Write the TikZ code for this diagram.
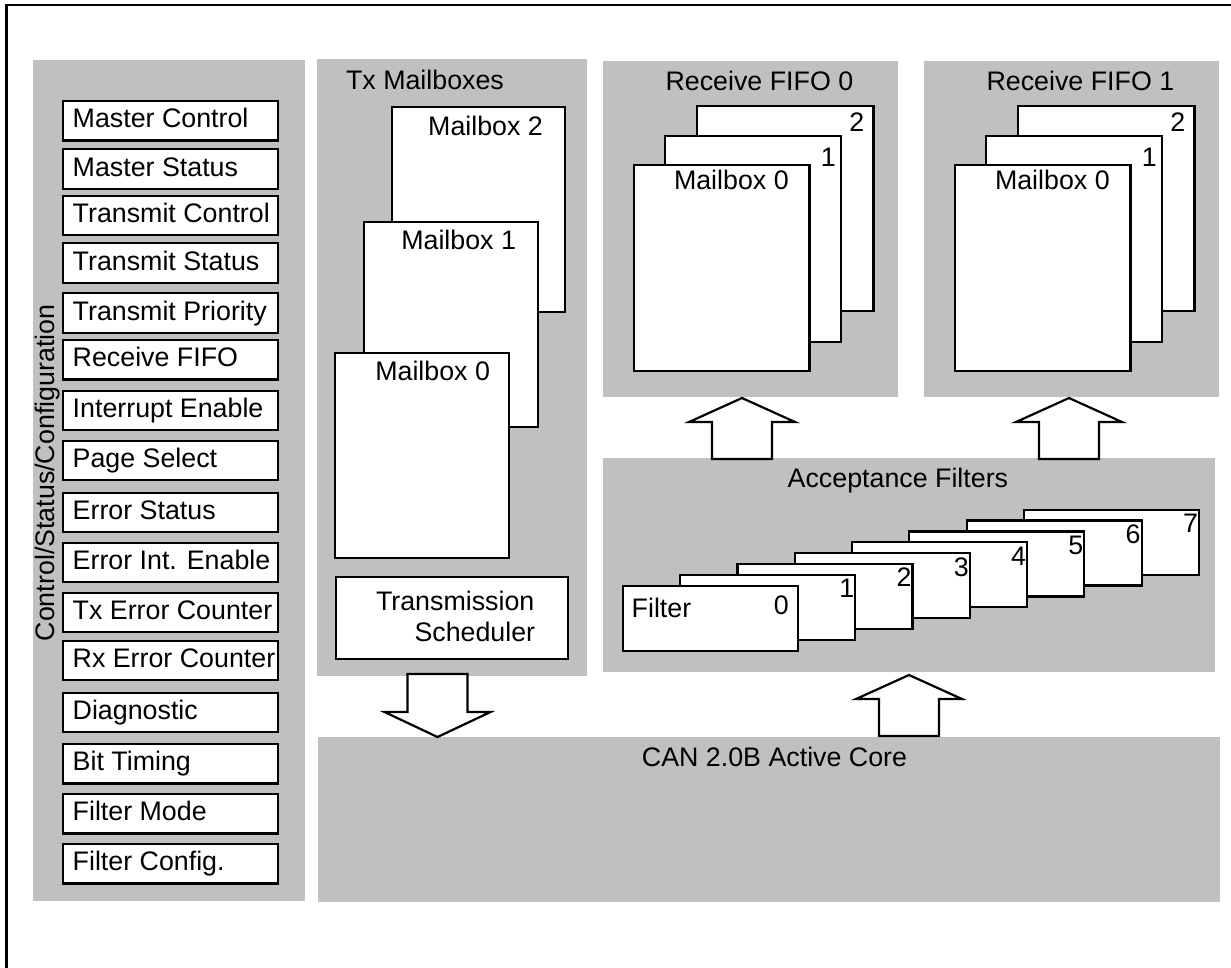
\documentclass[tikz,border=0pt]{standalone}
\usepackage{fontspec}
\setmainfont{Liberation Sans}
\definecolor{panelgray}{RGB}{192,192,192}
\newcommand\rectnode[6]{\node[#2, anchor=north west, minimum width={(#5)-(#3)}, minimum height={(#6)-(#4)}] (#1) at (#3,#4) {};}
\newcommand\blockarr[4]{\draw[blockarrow] (#1-30,#4) -- (#1-30,#3) -- (#1-53,#3) -- (#1,#2) -- (#1+53,#3) -- (#1+30,#3) -- (#1+30,#4) -- cycle;}
\begin{document}
\begin{tikzpicture}[x=1pt,y=-1pt,
  panel/.style={fill=panelgray, draw=none, inner sep=0pt, outer sep=0pt},
  wbox/.style={fill=white, draw=black, line width=2.2pt, inner sep=0pt, outer sep=0pt},
  txt/.style={inner sep=0pt, outer sep=0pt, font=\fontsize{26.8}{31}\selectfont},
  blockarrow/.style={fill=white, draw=black, line width=2.2pt, line join=miter},
  frameline/.style={line width=2.8pt}]
\useasboundingbox (0,0) rectangle (1231,967);

% frame
\draw[frameline] (1240,5) -- (6.7,5) -- (6.7,975);

% panels
\rectnode{ctrl}{panel}{33}{60}{305}{901}
\rectnode{txp}{panel}{317}{59}{587}{676}
\rectnode{accp}{panel}{603}{458}{1215}{672}
\rectnode{core}{panel}{318}{737}{1220}{902}

% control / status registers
\node[txt, rotate=90, anchor=base] (ctrllab) at (54,473) {Control/Status/Configuration};
\foreach \t/\lab [count=\i] in {101/Master Control, 149.3/Master Status, 195.7/Transmit Control,
  243.3/Transmit Status, 293.3/Transmit Priority, 340/Receive FIFO, 390.7/Interrupt Enable,
  440.7/Page Select, 492.7/Error Status, 542.7/Error Int. Enable, 592.7/Tx Error Counter,
  640.7/Rx Error Counter, 692.7/Diagnostic, 744/Bit Timing, 794/Filter Mode, 844/Filter Config.} {
  \rectnode{reg\i}{wbox}{62.7}{\t}{278.3}{\t+39.5}
  \node[txt, anchor=base west] (regt\i) at ([xshift=10pt, yshift=-26.8pt]reg\i.north west) {\lab};
}

% Tx mailboxes
\node[txt, anchor=base] (txt) at (425,89.3) {Tx Mailboxes};
\rectnode{tmb2}{wbox}{391.7}{106.7}{565.3}{312.3}
\node[txt, anchor=base west] (tmb2t) at ([xshift=36.5pt, yshift=-28.3pt]tmb2.north west) {Mailbox 2};
\rectnode{tmb1}{wbox}{364.3}{221.7}{538.3}{426.7}
\node[txt, anchor=base west] (tmb1t) at ([xshift=37pt, yshift=-27.3pt]tmb1.north west) {Mailbox 1};
\rectnode{tmb0}{wbox}{335}{352.7}{508.7}{557.7}
\node[txt, anchor=base west] (tmb0t) at ([xshift=40.3pt, yshift=-27.3pt]tmb0.north west) {Mailbox 0};
\rectnode{sched}{wbox}{335.7}{576.7}{568.3}{659.3}
\node[txt, anchor=base west] (schedt1) at (376,610) {Transmission};
\node[txt, anchor=base west] (schedt2) at (414.5,641.7) {Scheduler};

% receive FIFOs
\foreach \f/\s in {0/0,1/321} {
  \rectnode{fifo\f}{panel}{603+\s}{61}{898+\s}{397}
  \node[txt, anchor=base] (fifo\f-t) at (759.4+\s, 90.7) {Receive FIFO \f};
  \rectnode{fifo\f-mb2}{wbox}{696.6+\s}{105.7}{873.5+\s}{310.7}
  \node[txt, anchor=base east] (fifo\f-n2) at ([xshift=-9.3pt, yshift=-25.3pt]fifo\f-mb2.north east) {2};
  \rectnode{fifo\f-mb1}{wbox}{664.8+\s}{135.7}{841.2+\s}{342}
  \node[txt, anchor=base east] (fifo\f-n1) at ([xshift=-5.5pt, yshift=-31pt]fifo\f-mb1.north east) {1};
  \rectnode{fifo\f-mb0}{wbox}{633.8+\s}{165}{809.4+\s}{371}
  \node[txt, anchor=base west] (fifo\f-t0) at ([xshift=40.2pt, yshift=-24.3pt]fifo\f-mb0.north west) {Mailbox 0};
}

% acceptance filters
\node[txt, anchor=base] (acct) at (897.9,487.7) {Acceptance Filters};
\foreach \i in {7,6,...,0} {
  \pgfmathsetmacro\fx{623+57.27*\i}
  \pgfmathsetmacro\fy{585.7-10.86*\i}
  \rectnode{filt\i}{wbox}{\fx}{\fy}{\fx+175}{\fy+65}
  \ifnum\i=0
    \node[txt, anchor=base east] (fnum0) at ([xshift=-9.2pt, yshift=-28.3pt]filt0.north east) {0};
    \node[txt, anchor=base west] (ftxt) at ([xshift=8.7pt, yshift=-32pt]filt0.north west) {Filter};
  \else
    \node[txt, anchor=base east] (fnum\i) at ([xshift=-1pt, yshift=-23pt]filt\i.north east) {\i};
  \fi
}

% core
\node[txt, anchor=base] (coret) at (774.5,766) {CAN 2.0B Active Core};

% block arrows
\blockarr{742}{398}{422}{459}
\blockarr{1069}{398}{422}{459}
\blockarr{909}{675}{699}{736}
\blockarr{437.5}{737}{712}{674}
\end{tikzpicture}
\end{document}
